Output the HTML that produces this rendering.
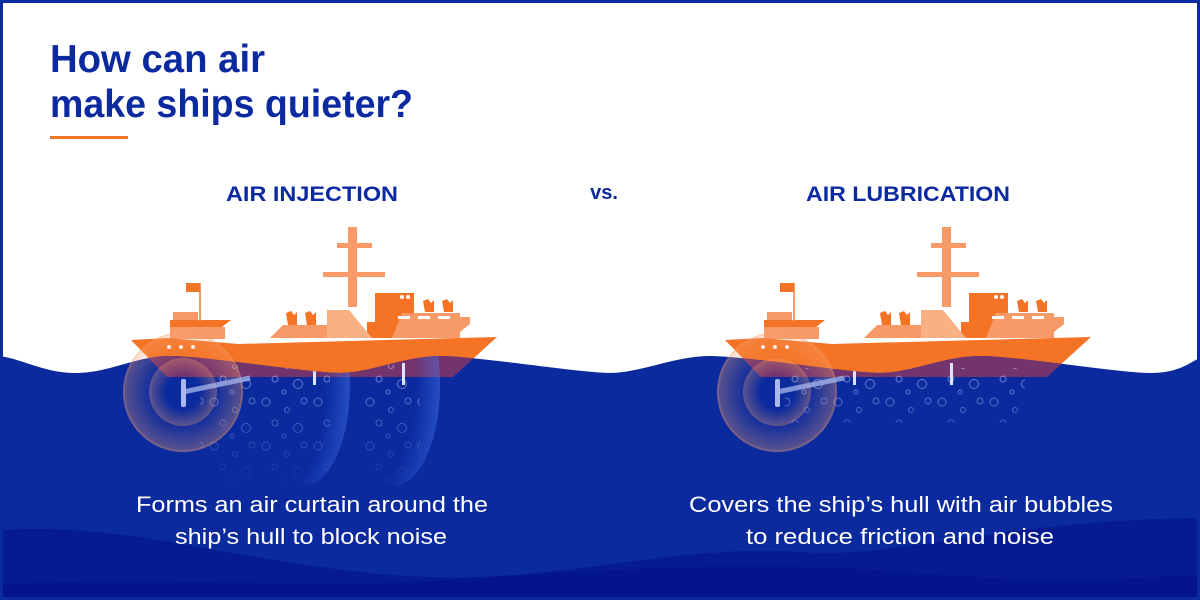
<!DOCTYPE html>
<html><head><meta charset="utf-8"><style>
html,body{margin:0;padding:0;background:#fff}
svg{display:block}
text{font-family:"Liberation Sans",sans-serif}
</style></head><body>
<svg width="1200" height="600" viewBox="0 0 1200 600" xmlns="http://www.w3.org/2000/svg">
<defs>
<clipPath id="water"><path id="wp" d="M0,356 C25,360 45,373 75,373 C110,373 135,356 170,356 S 310,373 340,373 S 405,356 440,356 S 580,373 610,373 S 675,356 710,356 S 850,373 880,373 S 945,356 980,356 S 1120,373 1150,373 S 1190,362 1200,358 V600 H0Z"/></clipPath>
<pattern id="bub" width="52" height="44" patternUnits="userSpaceOnUse">
<g fill="none" stroke="#b5c6f5" stroke-width="1" opacity="0.65">
<circle cx="6" cy="6" r="4"/><circle cx="27" cy="14" r="2.5"/><circle cx="44" cy="5" r="3"/>
<circle cx="15" cy="27" r="3"/><circle cx="38" cy="32" r="4.5"/>
<circle cx="24" cy="40" r="2"/></g></pattern>
<radialGradient id="ring" cx="0.5" cy="0.5" r="0.5">
<stop offset="0.5" stop-color="#f7a070" stop-opacity="0"/><stop offset="1" stop-color="#f7a070" stop-opacity="0.35"/></radialGradient>
<radialGradient id="curt" cx="0.2" cy="0.5" r="0.8">
<stop offset="0.65" stop-color="#3f6ee8" stop-opacity="0"/><stop offset="1" stop-color="#4a7af0" stop-opacity="0.45"/></radialGradient>
<linearGradient id="fadeD" x1="0" y1="0" x2="0" y2="1"><stop offset="0" stop-color="#fff"/><stop offset="1" stop-color="#fff" stop-opacity="0"/></linearGradient>
<mask id="mD"><rect x="0" y="360" width="1200" height="130" fill="url(#fadeD)"/></mask>
<g id="ship">
<rect x="348" y="227" width="9" height="80" fill="#f79a68"/>
<rect x="337" y="243" width="35" height="5" fill="#f79a68"/>
<rect x="323" y="272" width="62" height="5" fill="#f79a68"/>
<rect x="375" y="293" width="39" height="45" fill="#f47324"/>
<circle cx="402" cy="297" r="2" fill="#fff"/><circle cx="408" cy="297" r="2" fill="#fff"/>
<rect x="367" y="322" width="10" height="16" fill="#f47324"/>
<path d="M392,338 L402,313 H460 V338Z" fill="#f79a68"/>
<path d="M460,317 H470 V324 L460,332Z" fill="#f79a68"/>
<rect x="398" y="316" width="12" height="3" fill="#fff"/><rect x="418" y="316" width="12" height="3" fill="#fff"/><rect x="438" y="316" width="12" height="3" fill="#fff"/>
<path d="M425,312 L423,301 L428,299 L431,303 L434,300 L434,312Z" fill="#f47324"/>
<path d="M444,312 L442,301 L447,299 L450,303 L453,300 L453,312Z" fill="#f47324"/>
<path d="M270,338 L283,325 H327 V338Z" fill="#f79a68"/>
<path d="M327,310 H349 L372,338 H327Z" fill="#f9b184"/>
<path d="M288,325 L286,313 L291,311 L294,315 L297,312 L297,325Z" fill="#f47324"/>
<path d="M307,325 L305,313 L310,311 L313,315 L316,312 L316,325Z" fill="#f47324"/>
<rect x="173" y="312" width="25" height="8" fill="#f79a68"/>
<path d="M170,320 H231 L222,327 H170Z" fill="#f47324"/>
<rect x="170" y="327" width="55" height="12" fill="#f79a68"/>
<rect x="199" y="283" width="2" height="38" fill="#f79a68"/>
<rect x="186" y="283" width="14" height="9" fill="#f47324"/>
<path d="M131,340 L168,338 L238,344 L497,337 L453,377 H167 Z" fill="#f47324"/>
<circle cx="169" cy="347" r="2" fill="#fff"/><circle cx="181" cy="347" r="2" fill="#fff"/><circle cx="193" cy="347" r="2" fill="#fff"/>
</g>
<g id="hullp"><path d="M131,340 L168,338 L238,344 L497,337 L453,377 H167 Z" fill="#73346e"/></g>
</defs>
<rect width="1200" height="600" fill="#fff"/>
<use href="#ship"/>
<use href="#ship" transform="translate(594,0)"/>
<use href="#wp" fill="#0a2a9e"/>
<g clip-path="url(#water)">
<use href="#hullp"/><use href="#hullp" transform="translate(594,0)"/>
<path d="M0,530 C100,524 180,545 250,556 S 400,582 500,576 S 700,545 800,552 S 1000,520 1200,518 V600 H0Z" fill="#061b92"/>
<path d="M0,585 C150,575 300,590 450,580 S 750,560 900,572 S 1100,580 1200,575 V600 H0Z" fill="#04148a"/>
<ellipse cx="305" cy="385" rx="45" ry="100" fill="url(#curt)"/>
<ellipse cx="395" cy="385" rx="45" ry="100" fill="url(#curt)"/>
<g mask="url(#mD)">
<rect x="200" y="365" width="130" height="120" fill="url(#bub)"/>
<rect x="365" y="365" width="55" height="120" fill="url(#bub)"/>
<rect x="785" y="368" width="240" height="55" fill="url(#bub)"/>
</g>
<rect x="313" y="363" width="3" height="22" fill="#dde6ff"/>
<rect x="402" y="363" width="3" height="22" fill="#dde6ff"/>
<rect x="853" y="363" width="3" height="22" fill="#dde6ff"/>
<rect x="950" y="363" width="3" height="22" fill="#dde6ff"/>
</g>
<g>
<circle cx="183" cy="392" r="60" fill="url(#ring)"/>
<circle cx="183" cy="392" r="34" fill="url(#ring)"/>
<circle cx="183" cy="392" r="59" fill="none" stroke="#f7a070" stroke-opacity="0.2" stroke-width="2"/>
<rect x="181" y="379" width="5" height="28" rx="2" fill="#aab8ee"/>
<path d="M183,392 L250,378" stroke="#aab8ee" stroke-width="5" stroke-opacity="0.75"/>
<circle cx="777" cy="392" r="60" fill="url(#ring)"/>
<circle cx="777" cy="392" r="34" fill="url(#ring)"/>
<circle cx="777" cy="392" r="59" fill="none" stroke="#f7a070" stroke-opacity="0.2" stroke-width="2"/>
<rect x="775" y="379" width="5" height="28" rx="2" fill="#aab8ee"/>
<path d="M777,392 L844,378" stroke="#aab8ee" stroke-width="5" stroke-opacity="0.75"/>
</g>
<text x="50" y="72" font-size="39" font-weight="bold" fill="#0b2aa0" textLength="215" lengthAdjust="spacingAndGlyphs">How can air</text>
<text x="50" y="117" font-size="39" font-weight="bold" fill="#0b2aa0" textLength="363" lengthAdjust="spacingAndGlyphs">make ships quieter?</text>
<rect x="50" y="136" width="78" height="3" fill="#f47324"/>
<text x="312" y="201" font-size="21" font-weight="bold" fill="#0b2aa0" text-anchor="middle" textLength="172" lengthAdjust="spacingAndGlyphs">AIR INJECTION</text>
<text x="604" y="199" font-size="20" font-weight="bold" fill="#0b2aa0" text-anchor="middle">vs.</text>
<text x="908" y="201" font-size="21" font-weight="bold" fill="#0b2aa0" text-anchor="middle" textLength="204" lengthAdjust="spacingAndGlyphs">AIR LUBRICATION</text>
<g font-size="22" fill="#fff" text-anchor="middle">
<text x="312" y="512" textLength="352" lengthAdjust="spacingAndGlyphs">Forms an air curtain around the</text>
<text x="311" y="544" textLength="272" lengthAdjust="spacingAndGlyphs">ship’s hull to block noise</text>
<text x="901" y="512" textLength="424" lengthAdjust="spacingAndGlyphs">Covers the ship’s hull with air bubbles</text>
<text x="900" y="544" textLength="308" lengthAdjust="spacingAndGlyphs">to reduce friction and noise</text>
</g>
<rect x="1.5" y="1.5" width="1197" height="597" fill="none" stroke="#0a2aa0" stroke-width="3"/>
</svg>
</body></html>
